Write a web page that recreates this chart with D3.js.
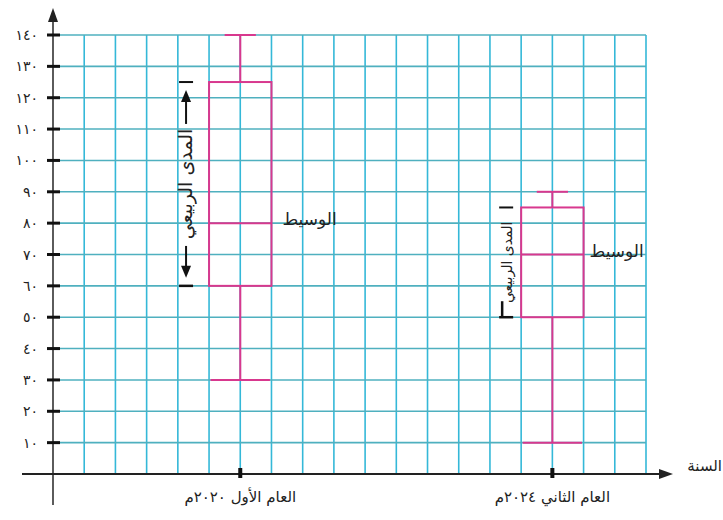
<!DOCTYPE html>
<html>
<head>
<meta charset="utf-8">
<script src="https://cdn.jsdelivr.net/npm/d3@7"></script>
<style>
  body { margin: 0; background: #fff; }
  text { font-family: "DejaVu Sans", sans-serif; fill: #222; }
</style>
</head>
<body>
<div id="chart"></div>
<script>
// box plot of the two years, drawn on squared paper

var years = ["العام الأول ٢٠٢٠م", "العام الثاني ٢٠٢٤م"];
var mins = [30, 10];
var q1s = [60, 50];
var medians = [80, 70];
var q3s = [125, 85];
var maxs = [140, 90];

var yTicks = [10, 20, 30, 40, 50, 60, 70, 80, 90, 100, 110, 120, 130, 140];
var yTickLabels = ["١٠", "٢٠", "٣٠", "٤٠", "٥٠", "٦٠", "٧٠", "٨٠", "٩٠", "١٠٠", "١١٠", "١٢٠", "١٣٠", "١٤٠"];
var iqrLabel = "المدى الربيعي";
var medianLabel = "الوسيط";
var xTitle = "السنة";

var width = 723, height = 520;
var svg = d3.select("#chart").append("svg")
    .attr("width", width)
    .attr("height", height);

// grid columns and value scale
var cols = 19;
var gx = d3.scaleLinear().domain([0, cols]).range([53, 646]);
var y = d3.scaleLinear().domain([0, 140]).range([474, 35]);
var x = d3.scalePoint().domain(years).range([gx(6), gx(16)]);
var half = gx(1) - gx(0);

var pink = "#d8388e";

// grid
var grid = svg.append("g").attr("class", "grid");
grid.selectAll("line.v")
    .data(d3.range(1, cols + 1))
    .enter().append("line")
    .attr("class", "v")
    .attr("x1", d => gx(d)).attr("x2", d => gx(d))
    .attr("y1", y(140)).attr("y2", y(0))
    .attr("stroke", "#34b8d8")
    .attr("stroke-width", 1.6);
grid.selectAll("line.h")
    .data(yTicks)
    .enter().append("line")
    .attr("class", "h")
    .attr("x1", gx(0)).attr("x2", gx(cols))
    .attr("y1", d => y(d)).attr("y2", d => y(d))
    .attr("stroke", "#4fb0bf")
    .attr("stroke-width", 1.6);

// boxes
var boxes = svg.append("g").attr("class", "boxes");
years.forEach(function(yr, i){
    var cx = x(yr);
    var g = boxes.append("g");
    // whiskers
    g.append("line")
        .attr("x1", cx).attr("x2", cx)
        .attr("y1", y(maxs[i])).attr("y2", y(q3s[i]))
        .attr("stroke", pink).attr("stroke-width", 2);
    g.append("line")
        .attr("x1", cx).attr("x2", cx)
        .attr("y1", y(q1s[i])).attr("y2", y(mins[i]))
        .attr("stroke", pink).attr("stroke-width", 2);
    // caps
    g.append("line")
        .attr("x1", cx - half * 0.5).attr("x2", cx + half * 0.5)
        .attr("y1", y(maxs[i])).attr("y2", y(maxs[i]))
        .attr("stroke", pink).attr("stroke-width", 2);
    g.append("line")
        .attr("x1", cx - half * 0.95).attr("x2", cx + half * 0.95)
        .attr("y1", y(mins[i])).attr("y2", y(mins[i]))
        .attr("stroke", pink).attr("stroke-width", 2);
    // box
    g.append("rect")
        .attr("x", cx - half).attr("width", half * 2)
        .attr("y", y(q3s[i])).attr("height", y(q1s[i]) - y(q3s[i]))
        .attr("fill", "none")
        .attr("stroke", pink).attr("stroke-width", 2);
    g.append("line")
        .attr("x1", cx - half).attr("x2", cx + half)
        .attr("y1", y(medians[i])).attr("y2", y(medians[i]))
        .attr("stroke", pink).attr("stroke-width", 2);

    // median label
    g.append("text")
        .attr("x", cx + half + (i == 0 ? 11 : 6))
        .attr("y", y(medians[i]) + 2)
        .attr("text-anchor", "start")
        .attr("font-size", "17px")
        .text(medianLabel);

    // iqr bracket
    var bx = cx - half - (i == 0 ? 23 : 15);
    var top = y(q3s[i]), bot = y(q1s[i]), mid = (top + bot) / 2;
    g.append("line")
        .attr("x1", bx - 7).attr("x2", bx + 7)
        .attr("y1", top).attr("y2", top)
        .attr("stroke", "#111").attr("stroke-width", 2);
    g.append("line")
        .attr("x1", bx - 7).attr("x2", bx + 7)
        .attr("y1", bot).attr("y2", bot)
        .attr("stroke", "#111").attr("stroke-width", 2.5);
    if (i == 0) {
        g.append("line")
            .attr("x1", bx).attr("x2", bx)
            .attr("y1", top + 14).attr("y2", mid - 60)
            .attr("stroke", "#111").attr("stroke-width", 2);
        g.append("path")
            .attr("d", "M" + bx + "," + (top + 8) + "l-5,12h10z")
            .attr("fill", "#111");
        g.append("line")
            .attr("x1", bx).attr("x2", bx)
            .attr("y1", mid + 62).attr("y2", bot - 14)
            .attr("stroke", "#111").attr("stroke-width", 2);
        g.append("path")
            .attr("d", "M" + bx + "," + (bot - 8) + "l-5,-12h10z")
            .attr("fill", "#111");
    } else {
        g.append("line")
            .attr("x1", bx - 4).attr("x2", bx - 4)
            .attr("y1", bot - 16).attr("y2", bot)
            .attr("stroke", "#111").attr("stroke-width", 2.5);
    }
    g.append("text")
        .attr("transform", "translate(" + (bx + 6) + "," + mid + ") rotate(-90)")
        .attr("text-anchor", "middle")
        .attr("font-size", i == 0 ? "19px" : "14px")
        .text(iqrLabel);
});

// y axis
var yAxis = svg.append("g").attr("class", "y-axis");
yAxis.append("line")
    .attr("x1", gx(0)).attr("x2", gx(0))
    .attr("y1", 505).attr("y2", 20)
    .attr("stroke", "#333").attr("stroke-width", 1.6);
yAxis.append("path")
    .attr("d", "M" + gx(0) + ",8l-5,14h10z")
    .attr("fill", "#222");
yAxis.selectAll("line.tick")
    .data(yTicks)
    .enter().append("line")
    .attr("class", "tick")
    .attr("x1", gx(0) - 6).attr("x2", gx(0) + 7)
    .attr("y1", d => y(d)).attr("y2", d => y(d))
    .attr("stroke", "#111").attr("stroke-width", 3);
yAxis.selectAll("text")
    .data(yTicks)
    .enter().append("text")
    .attr("x", 38)
    .attr("y", d => y(d) + 5)
    .attr("text-anchor", "end")
    .attr("font-size", "14px")
    .attr("fill", "#333")
    .text((d, i) => yTickLabels[i]);

// x axis
var xAxis = svg.append("g").attr("class", "x-axis");
xAxis.append("line")
    .attr("x1", 22).attr("x2", 662)
    .attr("y1", y(0)).attr("y2", y(0))
    .attr("stroke", "#222").attr("stroke-width", 2);
xAxis.append("path")
    .attr("d", "M673," + y(0) + "l-14,-5v10z")
    .attr("fill", "#222");
xAxis.selectAll("rect.tick")
    .data(years)
    .enter().append("rect")
    .attr("class", "tick")
    .attr("x", d => x(d) - 2).attr("width", 4)
    .attr("y", y(0) - 6).attr("height", 10)
    .attr("fill", "#111");
xAxis.selectAll("text.lab")
    .data(years)
    .enter().append("text")
    .attr("class", "lab")
    .attr("x", d => x(d))
    .attr("y", y(0) + 28)
    .attr("text-anchor", "middle")
    .attr("font-size", "15px")
    .text(d => d);
xAxis.append("text")
    .attr("x", 722)
    .attr("y", y(0) - 3)
    .attr("text-anchor", "end")
    .attr("font-size", "15px")
    .text(xTitle);
</script>
</body>
</html>
